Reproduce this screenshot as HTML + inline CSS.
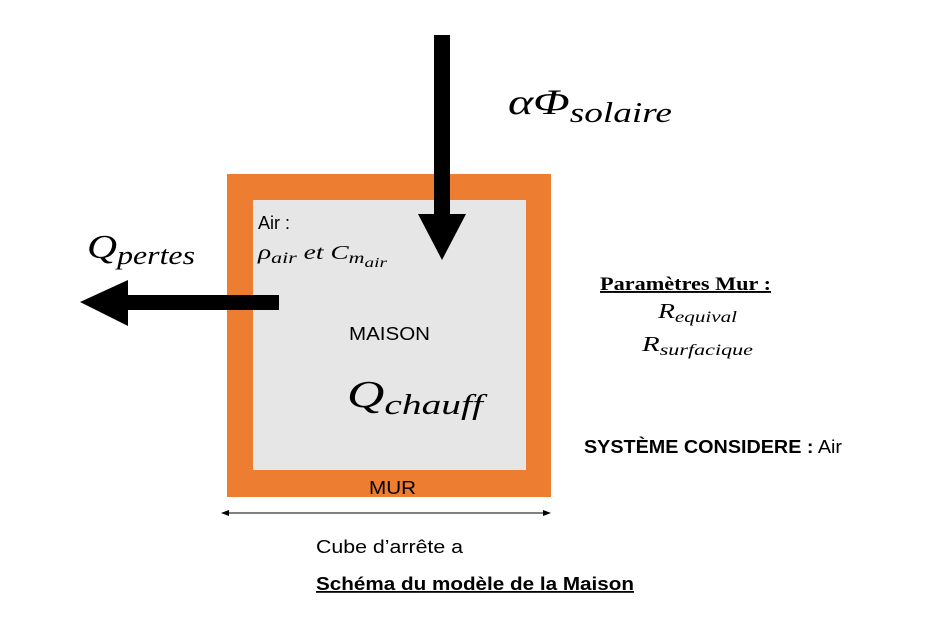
<!DOCTYPE html>
<html><head><meta charset="utf-8"><style>
body{margin:0;background:#fff;}
svg{display:block}
.s{font-family:"Liberation Sans",sans-serif}
.m{font-family:"Liberation Serif",serif;font-style:italic}
</style></head><body>
<svg width="949" height="643" viewBox="0 0 949 643" xmlns="http://www.w3.org/2000/svg">
<rect x="227" y="174" width="324" height="323" fill="#ED7D31"/>
<rect x="253" y="200" width="273" height="270" fill="#E7E6E6"/>
<rect x="434" y="35" width="16" height="182" fill="#000"/>
<polygon points="418,214 466,214 442,260" fill="#000"/>
<rect x="126" y="295" width="153" height="15" fill="#000"/>
<polygon points="80,302 128,280 128,326" fill="#000"/>
<line x1="226" y1="513" x2="546" y2="513" stroke="#000" stroke-width="1"/>
<polygon points="221,513 229,510 229,516" fill="#000"/>
<polygon points="551,513 543,510 543,516" fill="#000"/>
<text class="m" x="508" y="114" font-size="36" textLength="164" lengthAdjust="spacingAndGlyphs">αΦ<tspan font-size="28" dy="8">solaire</tspan></text>
<text class="m" x="87" y="258" font-size="34" textLength="108" lengthAdjust="spacingAndGlyphs">Q<tspan font-size="26" dy="6">pertes</tspan></text>
<text class="s" x="258" y="229" font-size="18">Air :</text>
<text class="m" x="258" y="259" font-size="20" textLength="129" lengthAdjust="spacingAndGlyphs">ρ<tspan font-size="16" dy="4">air</tspan><tspan dy="-4"> et C</tspan><tspan font-size="16" dy="4">m</tspan><tspan font-size="14" dy="4">air</tspan></text>
<text class="s" x="349" y="340" font-size="18" textLength="81" lengthAdjust="spacingAndGlyphs">MAISON</text>
<text class="m" x="347" y="407" font-size="38" textLength="136" lengthAdjust="spacingAndGlyphs">Q<tspan font-size="29" dy="7">chauff</tspan></text>
<text class="s" x="369" y="494" font-size="18" textLength="47" lengthAdjust="spacingAndGlyphs">MUR</text>
<text class="s" x="316" y="553" font-size="18" textLength="147" lengthAdjust="spacingAndGlyphs">Cube d’arrête a</text>
<text class="s" x="316" y="590" font-size="18" font-weight="bold" text-decoration="underline" textLength="318" lengthAdjust="spacingAndGlyphs">Schéma du modèle de la Maison</text>
<text x="600" y="290" font-size="19" font-weight="bold" font-family="Liberation Serif,serif" text-decoration="underline" textLength="171" lengthAdjust="spacingAndGlyphs">Paramètres Mur :</text>
<text class="m" x="658" y="318" font-size="21" textLength="79" lengthAdjust="spacingAndGlyphs">R<tspan font-size="16" dy="4">equival</tspan></text>
<text class="m" x="642" y="351" font-size="21" textLength="111" lengthAdjust="spacingAndGlyphs">R<tspan font-size="16" dy="4">surfacique</tspan></text>
<text class="s" x="584" y="453" font-size="18" textLength="258" lengthAdjust="spacingAndGlyphs"><tspan font-weight="bold">SYSTÈME CONSIDERE :</tspan>  Air</text>
</svg>
</body></html>
